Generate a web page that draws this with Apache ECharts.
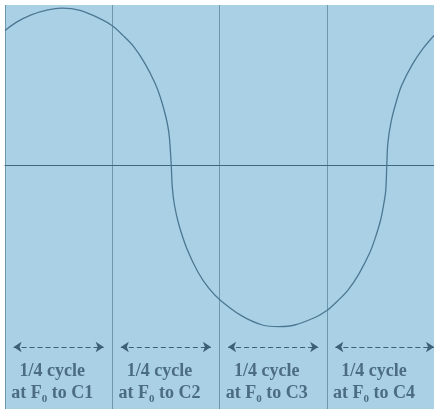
<!DOCTYPE html>
<html>
<head>
<meta charset="utf-8">
<script src="https://cdn.jsdelivr.net/npm/echarts@6/dist/echarts.min.js"></script>
<style>
  html, body { margin: 0; padding: 0; background: #fff; }
  #chart { width: 434px; height: 409px; }
</style>
</head>
<body>
<div id="chart"></div>
<script>
// x in quarter-cycles, y in amplitude units
const waveX = [0, 0.1, 0.25, 0.4, 0.53, 0.7, 0.9, 1.0, 1.1, 1.2, 1.3, 1.4, 1.45, 1.5, 1.53, 1.55,
  1.56, 1.58, 1.62, 1.7, 1.8, 1.9, 2.0, 2.2, 2.4, 2.556, 2.7, 2.9, 3.0, 3.1, 3.2, 3.3, 3.4, 3.45, 3.5, 3.53, 3.55, 3.56,
  3.57, 3.6, 3.65, 3.7, 3.8, 3.9, 4.0]
const waveY = [0.84, 0.89, 0.94, 0.97, 0.98, 0.966, 0.91, 0.87, 0.81, 0.74, 0.64, 0.51, 0.42, 0.30, 0.19, 0,
  -0.14, -0.25, -0.37, -0.53, -0.67, -0.77, -0.84, -0.94, -1.0, -1.01, -1.0, -0.95, -0.91, -0.85, -0.78, -0.68, -0.55, -0.46, -0.35, -0.25, -0.16, 0,
  0.14, 0.27, 0.40, 0.50, 0.63, 0.73, 0.81]
const segStart = [0, 1, 2, 3]
const segTop = ['1/4 cycle', '1/4 cycle', '1/4 cycle', '1/4 cycle']
const segTarget = ['C1', 'C2', 'C3', 'C4']
const arrowLevel = -1.1375
const labelLevel = -1.36

const chart = echarts.init(document.getElementById('chart'))

const lineColor = '#4d7893'
const textColor = '#34536a'

const wave = waveX.map((x, i) => [x, waveY[i]])

const arrows = segStart.map(s => [
  { coord: [s + 0.08, arrowLevel] },
  { coord: [s === 3 ? 4 : s + 0.92, arrowLevel] }
])

const labels = segStart.map((s, i) => ({
  value: [s + 0.44, labelLevel],
  label: {
    formatter: segTop[i] + '\n{t|at F}{sub|0}{t| to ' + segTarget[i] + '}'
  }
}))

chart.setOption({
  backgroundColor: '#fff',
  animation: false,
  grid: {
    left: 5,
    right: 0,
    top: 5,
    bottom: 0,
    show: true,
    backgroundColor: '#a9d0e5',
    borderWidth: 0
  },
  xAxis: {
    type: 'value',
    min: 0,
    max: 4,
    interval: 1,
    axisLine: { show: true, onZero: true, lineStyle: { color: '#3d6880', width: 1.2 } },
    axisTick: { show: false },
    axisLabel: { show: false },
    splitLine: { show: true, lineStyle: { color: '#6e97ae', width: 1 } }
  },
  yAxis: {
    type: 'value',
    min: -1.525,
    max: 1,
    show: false,
    splitLine: { show: false }
  },
  series: [
    {
      type: 'line',
      data: wave,
      smooth: 0.35,
      showSymbol: false,
      clip: false,
      lineStyle: { color: lineColor, width: 1.3 },
      markLine: {
        silent: true,
        symbol: ['arrow', 'arrow'],
        symbolSize: 8,
        label: { show: false },
        lineStyle: { color: '#3d5f78', width: 1, type: [5, 3] },
        data: arrows
      }
    },
    {
      type: 'scatter',
      symbolSize: 0,
      data: labels,
      label: {
        show: true,
        position: 'inside',
        color: textColor,
        fontFamily: 'Liberation Serif',
        fontWeight: 'bold',
        fontSize: 18,
        lineHeight: 22,
        align: 'center',
        rich: {
          t: { color: textColor, fontFamily: 'Liberation Serif', fontWeight: 'bold', fontSize: 18, lineHeight: 22 },
          sub: { color: textColor, fontFamily: 'Liberation Serif', fontWeight: 'bold', fontSize: 11, lineHeight: 22, verticalAlign: 'bottom', padding: [9, 0, 0, 0] }
        }
      }
    }
  ]
})
</script>
</body>
</html>
